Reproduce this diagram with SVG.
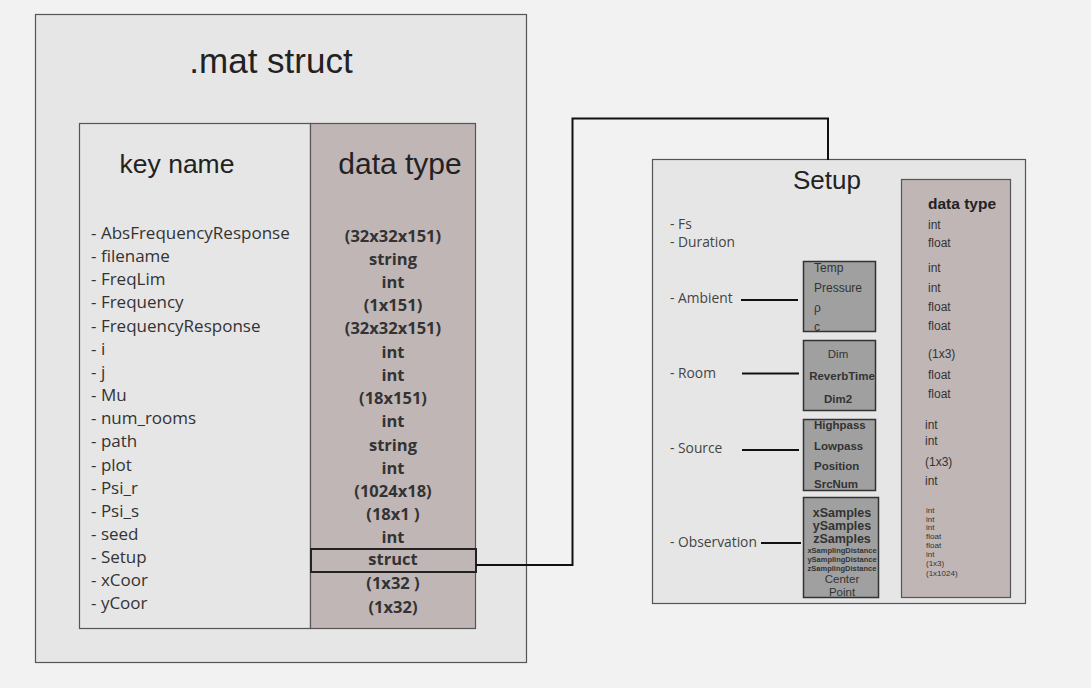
<svg xmlns="http://www.w3.org/2000/svg" width="1091" height="688" viewBox="0 0 1091 688">
<style>
.bg{fill:#f2f2f2}
.panel{fill:#e6e6e6;stroke:#555;stroke-width:1.2}
.dt{fill:#c0b6b6;stroke:#555;stroke-width:1.2}
.sub{fill:#a0a0a0;stroke:#333;stroke-width:1.5}
.title{font-family:"Liberation Sans",Arial,sans-serif;fill:#222;text-anchor:middle}
.key{font-family:"Open Sans","Noto Sans",sans-serif;font-size:17px;fill:#333}
.val{font-family:"Open Sans","Noto Sans",sans-serif;font-size:16.5px;font-weight:bold;fill:#333;text-anchor:middle}
.lbl{font-family:"Open Sans","Noto Sans",sans-serif;font-size:13.8px;fill:#444}
.sv{font-family:"Liberation Sans",Arial,sans-serif;font-size:12px;fill:#333}
.si{font-family:"Liberation Sans",Arial,sans-serif;font-size:12px;fill:#333}
.sb{font-family:"Liberation Sans",Arial,sans-serif;font-size:11.5px;font-weight:bold;fill:#333}
.tiny{font-family:"Liberation Sans",Arial,sans-serif;font-size:8px;fill:#333}
.conn{fill:none;stroke:#111;stroke-width:2}
</style>
<rect class="bg" x="0" y="0" width="1091" height="688"/>

<g id="mat-struct">
<rect class="panel" x="35.5" y="14.5" width="491" height="648"/>
<text class="title" x="271" y="73" font-size="35">.mat struct</text>
</g>

<g id="key-name">
<rect class="panel" x="79.5" y="123.5" width="231" height="505"/>
<text class="title" x="177" y="173" font-size="26.5">key name</text>
<g class="key">
<text x="91" y="239">- AbsFrequencyResponse</text>
<text x="91" y="262">- filename</text>
<text x="91" y="285">- FreqLim</text>
<text x="91" y="308">- Frequency</text>
<text x="91" y="332">- FrequencyResponse</text>
<text x="91" y="355">- i</text>
<text x="91" y="378">- j</text>
<text x="91" y="401">- Mu</text>
<text x="91" y="424">- num_rooms</text>
<text x="91" y="447">- path</text>
<text x="91" y="471">- plot</text>
<text x="91" y="494">- Psi_r</text>
<text x="91" y="517">- Psi_s</text>
<text x="91" y="540">- seed</text>
<text x="91" y="563">- Setup</text>
<text x="91" y="586">- xCoor</text>
<text x="91" y="609">- yCoor</text>
</g>
</g>

<g id="data-type">
<rect class="dt" x="310.5" y="123.5" width="165" height="505"/>
<text class="title" x="400" y="174" font-size="30">data type</text>
<g class="val">
<text x="393" y="242">(32x32x151)</text>
<text x="393" y="265">string</text>
<text x="393" y="288">int</text>
<text x="393" y="311">(1x151)</text>
<text x="393" y="334">(32x32x151)</text>
<text x="393" y="358">int</text>
<text x="393" y="381">int</text>
<text x="393" y="404">(18x151)</text>
<text x="393" y="427">int</text>
<text x="393" y="451">string</text>
<text x="393" y="474">int</text>
<text x="393" y="497">(1024x18)</text>
<text x="393" y="520">(18x1 )</text>
<text x="393" y="543">int</text>
<text x="393" y="589">(1x32 )</text>
<text x="393" y="613">(1x32)</text>
</g>
</g>

<g id="struct-cell">
<rect x="311" y="549" width="165" height="23" fill="#c0b6b6" stroke="#222" stroke-width="2"/>
<text class="val" x="393" y="565">struct</text>
</g>

<g id="setup">
<rect class="panel" x="652.5" y="159.5" width="373" height="444"/>
<text class="title" x="827" y="189" font-size="26">Setup</text>
<g class="lbl">
<text x="670" y="229">- Fs</text>
<text x="670" y="247">- Duration</text>
<text x="670" y="303">- Ambient</text>
<text x="670" y="378">- Room</text>
<text x="670" y="453">- Source</text>
<text x="670" y="547">- Observation</text>
</g>
</g>

<g id="setup-data-type">
<rect class="dt" x="901.5" y="179.5" width="109" height="418"/>
<text x="928" y="209" font-family="Liberation Sans,Arial,sans-serif" font-size="15.5" font-weight="bold" fill="#222">data type</text>
<g class="sv">
<text x="928" y="229">int</text>
<text x="928" y="247">float</text>
<text x="928" y="272">int</text>
<text x="928" y="292">int</text>
<text x="928" y="311">float</text>
<text x="928" y="330">float</text>
<text x="928" y="358">(1x3)</text>
<text x="928" y="379">float</text>
<text x="928" y="398">float</text>
<text x="925" y="429">int</text>
<text x="925" y="445">int</text>
<text x="925" y="466">(1x3)</text>
<text x="925" y="485">int</text>
</g>
<g class="tiny">
<text x="926" y="513">int</text>
<text x="926" y="521.5">int</text>
<text x="926" y="530">int</text>
<text x="926" y="539">float</text>
<text x="926" y="548">float</text>
<text x="926" y="556.5">int</text>
<text x="926" y="566">(1x3)</text>
<text x="926" y="575.5">(1x1024)</text>
</g>
</g>

<g id="ambient">
<rect class="sub" x="803.5" y="261.5" width="72" height="70"/>
<g class="si">
<text x="814" y="272">Temp</text>
<text x="814" y="292">Pressure</text>
<text x="814" y="312">ρ</text>
<text x="814" y="331">c</text>
</g>
</g>

<g id="room">
<rect class="sub" x="803.5" y="340.5" width="72" height="70"/>
<g class="sb" text-anchor="middle">
<text x="838" y="358" font-weight="normal">Dim</text>
<text x="842" y="380">ReverbTime</text>
<text x="838" y="403">Dim2</text>
</g>
</g>

<g id="source">
<rect class="sub" x="803.5" y="419.5" width="72" height="71"/>
<g class="sb">
<text x="814" y="429">Highpass</text>
<text x="814" y="450">Lowpass</text>
<text x="814" y="470">Position</text>
<text x="814" y="488">SrcNum</text>
</g>
</g>

<g id="observation">
<rect class="sub" x="803.5" y="497.5" width="75" height="100"/>
<g font-family="Liberation Sans,Arial,sans-serif" font-weight="bold" fill="#333" text-anchor="middle">
<text x="842" y="517" font-size="12.5">xSamples</text>
<text x="842" y="530" font-size="12.5">ySamples</text>
<text x="842" y="543" font-size="12.5">zSamples</text>
<text x="842" y="553" font-size="7.5">xSamplingDistance</text>
<text x="842" y="562" font-size="7.5">ySamplingDistance</text>
<text x="842" y="571" font-size="7.5">zSamplingDistance</text>
</g>
<g font-family="Liberation Sans,Arial,sans-serif" font-size="11.5" fill="#333" text-anchor="middle">
<text x="842" y="583">Center</text>
<text x="842" y="595.5">Point</text>
</g>
</g>

<g id="connectors">
<polyline class="conn" points="476,565 572.5,565 572.5,118.5 828,118.5 828,160"/>
<line class="conn" x1="741" y1="300" x2="798" y2="300"/>
<line class="conn" x1="742" y1="373.5" x2="799" y2="373.5"/>
<line class="conn" x1="742" y1="450" x2="799" y2="450"/>
<line class="conn" x1="761" y1="543" x2="801" y2="543"/>
</g>
</svg>
